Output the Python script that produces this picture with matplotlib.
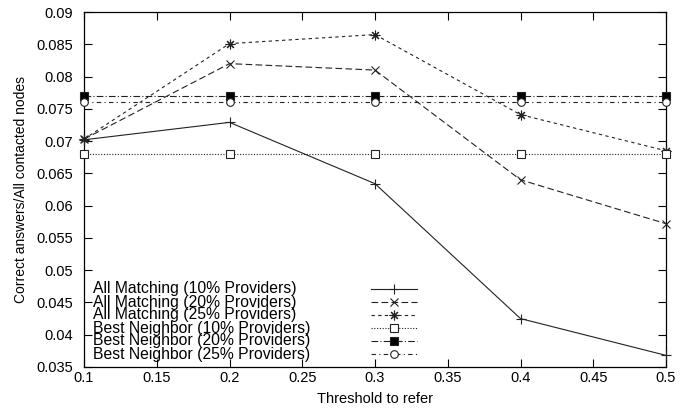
import matplotlib
matplotlib.use("Agg")
import matplotlib.pyplot as plt
from matplotlib.lines import Line2D

plt.rcParams['font.family'] = ['Liberation Sans', 'DejaVu Sans']

thresholds = [0.1, 0.2, 0.3, 0.4, 0.5]
labels = [
    "All Matching (10% Providers)",
    "All Matching (20% Providers)",
    "All Matching (25% Providers)",
    "Best Neighbor (10% Providers)",
    "Best Neighbor (20% Providers)",
    "Best Neighbor (25% Providers)",
]
am10 = [0.0702, 0.0729, 0.0634, 0.0425, 0.0368]
am20 = [0.0703, 0.0820, 0.0810, 0.0640, 0.0572]
am25 = [0.0703, 0.0851, 0.0865, 0.0741, 0.0685]
bn10 = [0.068, 0.068, 0.068, 0.068, 0.068]
bn20 = [0.077, 0.077, 0.077, 0.077, 0.077]
bn25 = [0.076, 0.076, 0.076, 0.076, 0.076]
series = [am10, am20, am25, bn10, bn20, bn25]
xtick_vals = [0.1, 0.15, 0.2, 0.25, 0.3, 0.35, 0.4, 0.45, 0.5]
xtick_labels = ['0.1', '0.15', '0.2', '0.25', '0.3', '0.35', '0.4', '0.45', '0.5']
ytick_vals = [0.035, 0.04, 0.045, 0.05, 0.055, 0.06, 0.065, 0.07, 0.075, 0.08, 0.085, 0.09]
ytick_labels = ['0.035', '0.04', '0.045', '0.05', '0.055', '0.06', '0.065',
                '0.07', '0.075', '0.08', '0.085', '0.09']

styles = [
    dict(ls='-', marker='+', mfc='none', ms=7.5),
    dict(ls=(0, (6, 3)), marker='x', mfc='none', ms=6),
    dict(ls=(0, (3, 3)), marker=(8, 2, 0), mfc='none', ms=7),
    dict(ls=(0, (1, 1.5)), marker='s', mfc='white', ms=5.5),
    dict(ls=(0, (6, 2, 1, 2)), marker='s', mfc='black', ms=5.5),
    dict(ls=(0, (4, 3, 1, 3)), marker='o', mfc='white', ms=5.5),
]
lc = '#222222'

W, H = 690, 409
fig = plt.figure(figsize=(6.9, 4.09), dpi=100)
L, R, T, B = 84, 666, 12, 367
ax = fig.add_axes([L / W, 1 - B / H, (R - L) / W, (B - T) / H])

for vals, st in zip(series, styles):
    ax.plot(thresholds, vals, color=lc, lw=0.8, mec=lc, mew=0.8,
            clip_on=False, zorder=3, **st)

ax.set_xlim(0.1, 0.5)
ax.set_ylim(0.035, 0.09)
ax.set_xticks(xtick_vals)
ax.set_xticklabels(xtick_labels)
ax.set_yticks(ytick_vals)
ax.set_yticklabels(ytick_labels)
ax.tick_params(direction='in', top=True, right=True, length=6, labelsize=10.5, width=0.8)
ax.tick_params(axis='y', pad=8)
ax.tick_params(axis='x', pad=3)
for s in ax.spines.values():
    s.set_linewidth(0.9)

ax.set_xlabel("Threshold to refer", fontsize=10.5, labelpad=5)
ax.set_ylabel("Correct answers/All contacted nodes", fontsize=10, labelpad=6)

# legend (text left, sample right), drawn manually to mimic the gnuplot key
aw, ah = R - L, B - T
tx = (93 - L) / aw
x0, x1, xm = (371 - L) / aw, (417 - L) / aw, (394 - L) / aw
for i, (lab, st) in enumerate(zip(labels, styles)):
    ypix = 289 + 13 * i
    yf = (B - ypix) / ah
    ax.text(tx, yf, lab, transform=ax.transAxes, ha='left', va='center', fontsize=11.3)
    ax.add_line(Line2D([x0, x1], [yf, yf], transform=ax.transAxes, color=lc, lw=0.8, ls=st['ls']))
    ax.add_line(Line2D([xm], [yf], transform=ax.transAxes, color=lc, ls='none',
                       marker=st['marker'], ms=st['ms'], mfc=st['mfc'], mec=lc, mew=0.8))

fig.savefig("out.png", dpi=100)
